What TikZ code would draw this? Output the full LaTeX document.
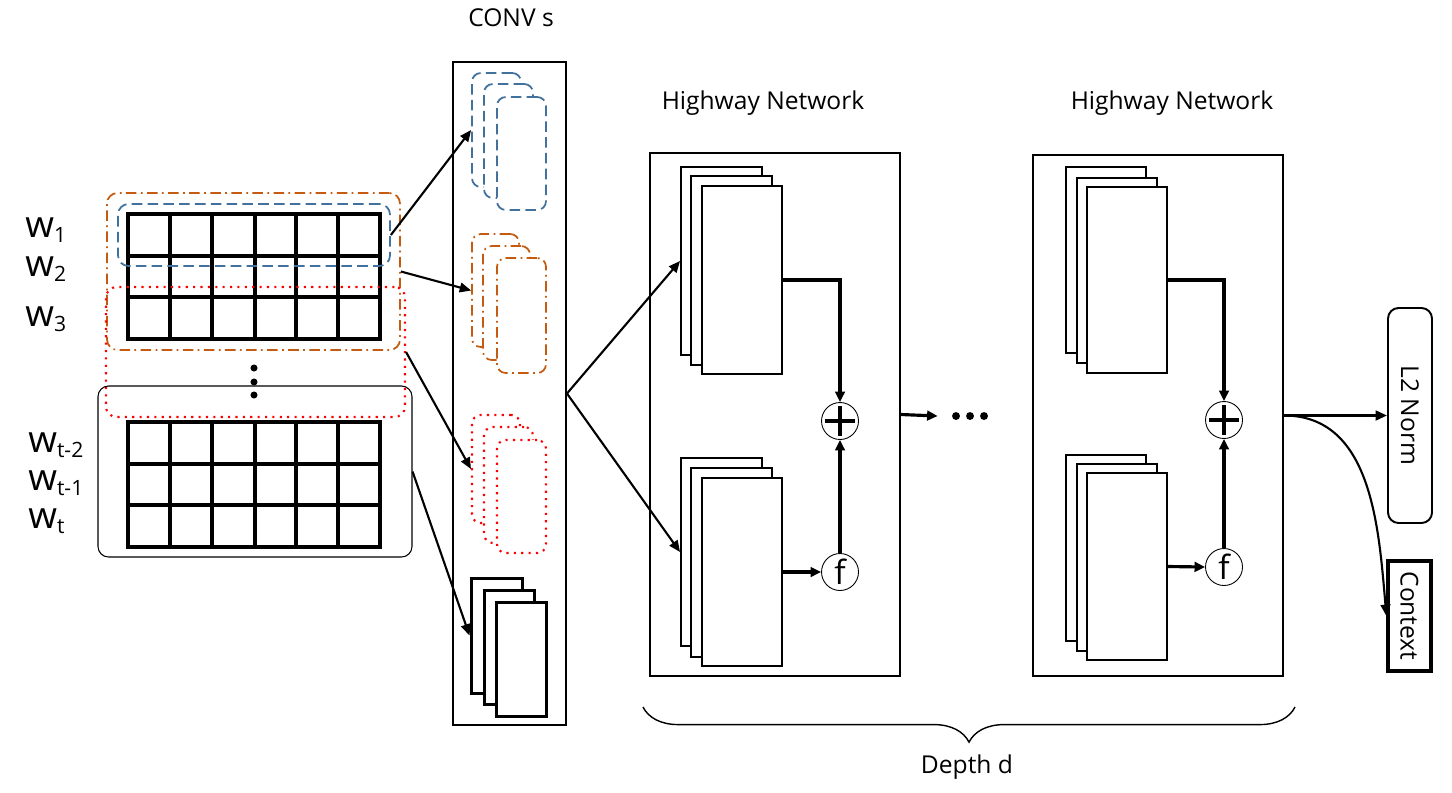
\documentclass[tikz,border=0pt]{standalone}
\usepackage{fontspec}
\setmainfont{Open Sans}
\usetikzlibrary{arrows.meta,fit,decorations.pathreplacing}
\definecolor{convblue}{RGB}{65,113,156}
\definecolor{convorange}{RGB}{197,90,17}
\newcommand{\wsub}[1]{{\fontsize{21}{24}\selectfont w}\raisebox{-0.45ex}{\fontsize{12}{14}\selectfont #1}}

\begin{document}
\begin{tikzpicture}[x=0.02cm, y=-0.02cm, font=\fontsize{14}{16}\selectfont,
    wlabel/.style={anchor=base west, inner sep=0pt},
    gridline/.style={line width=2pt},
    win/.style={inner sep=0pt, rounded corners=6pt},
    bluedash/.style={draw=convblue, line width=1pt, dash pattern=on 6pt off 3pt},
    orangedash/.style={draw=convorange, line width=1pt, dash pattern=on 6pt off 2.5pt on 1pt off 2.5pt},
    reddot/.style={draw=red, line width=1.2pt, dash pattern=on 1.2pt off 3pt},
    cstack/.style={inner sep=0pt, fill=white, rounded corners=5pt},
    hstack/.style={draw, fill=white, inner sep=0pt, line width=1.1pt},
    box/.style={draw, inner sep=0pt, line width=1.1pt},
    op/.style={circle, draw, line width=0.5pt, inner sep=0pt, minimum size=0.74cm},
    arr/.style={-{Triangle[length=6.5pt,width=5.5pt]}, line width=1.2pt},
    thickarr/.style={-{Triangle[length=6pt,width=5.5pt]}, line width=1.8pt},
    dot/.style={circle, fill, inner sep=0pt, minimum size=4.5pt}]
    \useasboundingbox (0,0) rectangle (1452,792);

    % Word labels
    \node[wlabel] (w1) at (25,237) {\wsub{1}};
    \node[wlabel] (w2) at (25,276) {\wsub{2}};
    \node[wlabel] (w3) at (25,326) {\wsub{3}};
    \node[wlabel] (wt2) at (28,452) {\wsub{t-2}};
    \node[wlabel] (wt1) at (28,490) {\wsub{t-1}};
    \node[wlabel] (wt) at (28,528) {\wsub{t}};

    % Word grids
    \node[fit={(128,214) (380,339)}, box, gridline] (g1) {};
    \foreach \x in {170,212,255,296,338} \draw[gridline] (\x,214) -- (\x,339);
    \foreach \y in {256,297} \draw[gridline] (128,\y) -- (380,\y);
    \node[fit={(128,422) (380,547)}, box, gridline] (g2) {};
    \foreach \x in {170,212,255,296,338} \draw[gridline] (\x,422) -- (\x,547);
    \foreach \y in {464,505} \draw[gridline] (128,\y) -- (380,\y);

    % Windows
    \node[fit={(118,204) (390,266)}, win, bluedash] (bw) {};
    \node[fit={(107,193) (400,350)}, win, orangedash] (ow) {};
    \node[fit={(106,287) (405,417)}, win, reddot] (rw) {};
    \node[fit={(98,386) (412,557)}, win, draw, line width=0.6pt] (kw) {};
    \foreach \y in {368,382,395} \fill (254,\y) circle (2pt);

    % Convolutions
    \node (convlabel) at (511,18) {CONV s};
    \node[fit={(453,62) (566,725)}, box] (conv) {};
    \node[fit={(472,73) (521,187)}, cstack, bluedash] (cb1) {};
    \node[fit={(484,84) (533,198)}, cstack, bluedash] (cb2) {};
    \node[fit={(497,97) (546,210)}, cstack, bluedash] (cb3) {};
    \node[fit={(472,234) (519,347)}, cstack, orangedash] (co1) {};
    \node[fit={(483,246) (530,360)}, cstack, orangedash] (co2) {};
    \node[fit={(497,258) (546,373)}, cstack, orangedash] (co3) {};
    \node[fit={(472,415) (520,523)}, cstack, reddot] (cr1) {};
    \node[fit={(484,427) (533,543)}, cstack, reddot] (cr2) {};
    \node[fit={(497,440) (546,553)}, cstack, reddot] (cr3) {};
    \node[fit={(471,578) (522,693)}, hstack, line width=1.7pt] (ck1) {};
    \node[fit={(484,590) (534,704)}, hstack, line width=1.7pt] (ck2) {};
    \node[fit={(496,602) (546,716)}, hstack, line width=1.7pt] (ck3) {};

    \draw[arr] (bw.east) -- (cb1.west);
    \draw[arr] (ow.east) -- (co1.west);
    \draw[arr] (rw.east) -- (cr1.west);
    \draw[arr] (kw.east) -- (ck1.west);

    % Highway network 1
    \node (hn1label) at (763,103) {Highway Network};
    \node[fit={(650,153) (900,676)}, box] (hn1) {};
    \node[fit={(681,167) (762,355)}, hstack] (t1a) {};
    \node[fit={(691,176) (772,365)}, hstack] (t1b) {};
    \node[fit={(702,186) (782,374)}, hstack] (t1c) {};
    \node[fit={(681,458) (762,646)}, hstack] (b1a) {};
    \node[fit={(691,468) (772,657)}, hstack] (b1b) {};
    \node[fit={(702,478) (782,666)}, hstack] (b1c) {};
    \node[op] (p1) at (840,421) {};
    \draw[line width=2.6pt] ([xshift=-8.5pt]p1.center) -- ([xshift=8.5pt]p1.center)
        ([yshift=-8.5pt]p1.center) -- ([yshift=8.5pt]p1.center);
    \node[op, font=\fontsize{19}{20}\selectfont] (f1) at (840,572) {f};
    \draw[thickarr] (t1c.east) -| (p1.north);
    \draw[thickarr] (b1c.east) -- (f1.west);
    \draw[thickarr] (f1.north) -- (p1.south);

    \draw[arr] (conv.east) -- (t1a.west);
    \draw[arr] (conv.east) -- (b1a.west);

    % Dots between networks
    \node[dot] (d1) at (956,416) {};
    \node[dot] (d2) at (970,416) {};
    \node[dot] (d3) at (984,416) {};
    \draw[thickarr] (hn1.east) -- ([xshift=-8pt]d1.west);

    % Highway network 2
    \node (hn2label) at (1172,103) {Highway Network};
    \node[fit={(1033,155) (1283,676)}, box] (hn2) {};
    \node[fit={(1066,167) (1146,353)}, hstack] (t2a) {};
    \node[fit={(1077,178) (1157,363)}, hstack] (t2b) {};
    \node[fit={(1087,187) (1167,373)}, hstack] (t2c) {};
    \node[fit={(1066,455) (1146,641)}, hstack] (b2a) {};
    \node[fit={(1077,464) (1157,651)}, hstack] (b2b) {};
    \node[fit={(1087,473) (1167,660)}, hstack] (b2c) {};
    \node[op] (p2) at (1224,420) {};
    \draw[line width=2.6pt] ([xshift=-8.5pt]p2.center) -- ([xshift=8.5pt]p2.center)
        ([yshift=-8.5pt]p2.center) -- ([yshift=8.5pt]p2.center);
    \node[op, font=\fontsize{19}{20}\selectfont] (f2) at (1224,567) {f};
    \draw[thickarr] (t2c.east) -| (p2.north);
    \draw[thickarr] (b2c.east) -- (f2.west);
    \draw[thickarr] (f2.north) -- (p2.south);

    % Outputs
    \node[fit={(1388,308) (1432,523)}, box, rounded corners=6pt] (l2) {};
    \node[rotate=-90] (l2text) at (l2.center) {L2 Norm};
    \node[fit={(1388,561) (1431,671)}, box, line width=1.8pt] (ctx) {};
    \node[rotate=-90] (ctxtext) at (ctx.center) {Context};
    \draw[arr, line width=1.5pt] (hn2.east) -- (l2.west);
    \draw[arr] (hn2.east) to[out=0, in=95] (ctx.west);

    % Depth brace
    \coordinate (brl) at (643,707);
    \coordinate (brr) at (1295,707);
    \draw[decorate, decoration={brace, mirror, amplitude=20pt}, line width=0.8pt] (brl) -- (brr);
    \node (depth) at (967,767) {Depth d};
\end{tikzpicture}
\end{document}
